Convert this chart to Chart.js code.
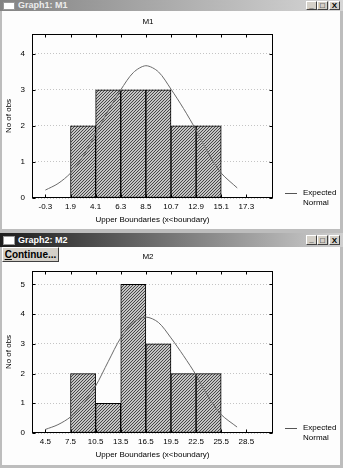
<!DOCTYPE html>
<html><head><meta charset="utf-8">
<script src="https://cdn.jsdelivr.net/npm/chart.js@4/dist/chart.umd.min.js"></script>
<style>
html,body{margin:0;padding:0}
body{width:343px;height:468px;position:relative;background:#bdbdbd;overflow:hidden;font-family:"Liberation Sans",Arial,sans-serif}
.wbody{position:absolute;left:2px;width:338px;background:#fdfdfd}
.tb{position:absolute;left:0;width:343px;color:#fff;font:bold 9px "Liberation Sans",Arial,sans-serif;white-space:nowrap}
.tb .ic{position:absolute;left:3px;width:12px;background:#fff;border:1px solid #999;box-sizing:border-box}
.tb .tx{position:absolute;left:18px}
.btn{position:absolute;width:11px;background:#d4d0c8;border:1px solid;border-color:#fff #404040 #404040 #fff;box-sizing:border-box;color:#000;font:bold 8px "Liberation Sans",Arial,sans-serif;text-align:center}
#cont{position:absolute;left:2px;top:247px;width:57px;height:15px;background:#d4d0c8;border:1px solid;border-color:#fff #404040 #404040 #fff;box-sizing:border-box;font:bold 10px "Liberation Sans",Arial,sans-serif;line-height:13px;text-align:center;color:#000}
canvas{position:absolute;left:0}
</style></head>
<body>
<div class="wbody" style="top:11px;height:218px"></div>
<div class="tb" style="top:0;height:11px;background:linear-gradient(to right,#838383,#d6d6d6)">
  <div class="ic" style="top:2px;height:8px"></div>
  <div class="tx" style="top:0;line-height:11px;color:#ececec">Graph1: M1</div>
  <div class="btn" style="left:306px;top:1px;height:9px;line-height:7px">_</div>
  <div class="btn" style="left:317px;top:1px;height:9px;line-height:7px">□</div>
  <div class="btn" style="left:329px;top:1px;height:9px;line-height:8px">X</div>
</div>
<div class="tb" style="top:233px;height:14px;background:linear-gradient(to right,#1c1c1c,#d0d0d0)">
  <div class="ic" style="top:3px;height:9px"></div>
  <div class="tx" style="top:0;line-height:14px">Graph2: M2</div>
  <div class="btn" style="left:306px;top:2px;height:10px;line-height:8px">_</div>
  <div class="btn" style="left:317px;top:2px;height:10px;line-height:9px">□</div>
  <div class="btn" style="left:329px;top:2px;height:10px;line-height:9px">X</div>
</div>
<div class="wbody" style="top:247px;height:218px"></div>
<canvas id="c1" width="343" height="218" style="top:12px"></canvas>
<canvas id="c2" width="343" height="218" style="top:247px"></canvas>
<div id="cont"><u>C</u>ontinue...</div>
<script>
// ---- data ----
const xTitle = 'Upper Boundaries (x<boundary)';
const yTitle = 'No of obs';
const legendLines = ['Expected', 'Normal'];

const m1Title = 'M1';
const m1Edges = [1.9, 4.1, 6.3, 8.5, 10.7, 12.9, 15.1];
const m1Counts = [2, 3, 3, 3, 2, 2];
const m1XTicks = [-0.3, 1.9, 4.1, 6.3, 8.5, 10.7, 12.9, 15.1, 17.3];
const m1XLabels = ['-0.3', '1.9', '4.1', '6.3', '8.5', '10.7', '12.9', '15.1', '17.3'];
const m1YTicks = [0, 1, 2, 3, 4];
const m1YLabels = ['0', '1', '2', '3', '4'];
const m1CurveX = [-0.3, 0.8, 1.9, 3.0, 4.1, 5.2, 6.3, 7.4, 8.5, 9.6, 10.7, 11.8, 12.9, 14.0, 15.1, 16.5];
const m1CurveY = [0.22, 0.4, 0.69, 1.15, 1.78, 2.42, 3.0, 3.48, 3.67, 3.5, 3.02, 2.48, 1.88, 1.22, 0.69, 0.28];
const m1XRange = [-0.3, 18.46];
const m1YRange = [0, 4.55];

const m2Title = 'M2';
const m2Edges = [7.5, 10.5, 13.5, 16.5, 19.5, 22.5, 25.5];
const m2Counts = [2, 1, 5, 3, 2, 2];
const m2XTicks = [4.5, 7.5, 10.5, 13.5, 16.5, 19.5, 22.5, 25.5, 28.5];
const m2XLabels = ['4.5', '7.5', '10.5', '13.5', '16.5', '19.5', '22.5', '25.5', '28.5'];
const m2YTicks = [0, 1, 2, 3, 4, 5];
const m2YLabels = ['0', '1', '2', '3', '4', '5'];
const m2CurveX = [4.5, 6, 7.5, 9, 10.5, 12, 13.5, 15, 16.5, 18, 19.5, 21, 22.5, 24, 25.5, 27.4];
const m2CurveY = [0.12, 0.28, 0.54, 0.98, 1.58, 2.4, 3.2, 3.72, 3.9, 3.72, 3.2, 2.6, 1.95, 1.2, 0.62, 0.2];
const m2XRange = [4.5, 30.09];
const m2YRange = [0, 5.45];

// ---- drawing ----
const FONT = '"Liberation Sans", Arial, sans-serif';
function hatch() {
  const c = document.createElement('canvas');
  c.width = 3; c.height = 3;
  const g = c.getContext('2d');
  g.fillStyle = '#c4c4c4'; g.fillRect(0, 0, 3, 3);
  g.fillStyle = '#474747';
  g.fillRect(0, 2, 1, 1); g.fillRect(1, 1, 1, 1); g.fillRect(2, 0, 1, 1);
  return g.createPattern(c, 'repeat');
}

const framePlugin = {
  id: 'frame',
  afterDraw(chart, args, o) {
    const {ctx, chartArea: a, scales: {x, y}} = chart;
    ctx.save();
    ctx.strokeStyle = '#000'; ctx.lineWidth = 1;
    const L = Math.round(a.left) + 0.5, T = Math.round(a.top) + 0.5, R = Math.round(a.right) - 0.5, B = Math.round(a.bottom) - 0.5;
    ctx.strokeRect(L, T, R - L, B - T);
    ctx.beginPath();
    x.ticks.forEach(t => {
      const p = Math.round(x.getPixelForValue(t.value)) + 0.5;
      ctx.moveTo(p, T); ctx.lineTo(p, T + 3);
      ctx.moveTo(p, B); ctx.lineTo(p, B - 3);
    });
    y.ticks.forEach(t => {
      const p = Math.round(y.getPixelForValue(t.value)) + 0.5;
      ctx.moveTo(L, p); ctx.lineTo(L + 3, p);
      ctx.moveTo(R, p); ctx.lineTo(R - 3, p);
    });
    ctx.stroke();
    ctx.fillStyle = '#000';
    ctx.font = '8px ' + FONT;
    ctx.textAlign = 'center'; ctx.textBaseline = 'middle';
    ctx.fillText(o.title, o.titleX, o.titleY);
    // legend
    ctx.strokeStyle = '#555';
    ctx.beginPath();
    ctx.moveTo(o.legX, o.legY + 0.5); ctx.lineTo(o.legX + 12, o.legY + 0.5);
    ctx.stroke();
    ctx.textAlign = 'left';
    legendLines.forEach((s, i) => ctx.fillText(s, o.legX + 18, o.legY + i * 10));
    ctx.restore();
  }
};

function makeChart(id, edges, counts, xt, xl, yt, yl, cx, cy, xr, yr, title, padTop) {
  const bars = counts.map((v, i) => ({x: (edges[i] + edges[i + 1]) / 2, y: v}));
  const curve = cx.map((v, i) => ({x: v, y: cy[i]}));
  return new Chart(document.getElementById(id), {
    type: 'bar',
    data: {
      datasets: [
        {type: 'line', data: curve, borderColor: '#6a6a6a', borderWidth: 1, pointRadius: 0, tension: 0.3, order: 0},
        {type: 'bar', data: bars, backgroundColor: hatch(), borderColor: '#000', borderWidth: 1, borderSkipped: false,
         barPercentage: 1, categoryPercentage: 1, order: 1}
      ]
    },
    options: {
      responsive: false, animation: false, devicePixelRatio: 1, events: [],
      layout: {padding: {top: padTop, right: 70, left: 0, bottom: 0}},
      plugins: {
        legend: {display: false}, tooltip: {enabled: false}, title: {display: false},
        frame: {title: title, titleX: 148, titleY: 10, legX: 285, legY: 181}
      },
      scales: {
        x: {
          type: 'linear', min: xr[0], max: xr[1],
          afterBuildTicks: s => { s.ticks = xt.map(v => ({value: v})); },
          afterFit: s => { s.height = 32; },
          ticks: {callback: (v) => xl[xt.indexOf(v)], color: '#000', font: {size: 8, family: FONT}, padding: 4, maxRotation: 0, autoSkip: false},
          grid: {display: false, drawTicks: false},
          border: {display: false},
          title: {display: true, text: xTitle, color: '#000', font: {size: 8, family: FONT}, padding: {top: 0, bottom: 5}}
        },
        y: {
          type: 'linear', min: yr[0], max: yr[1],
          afterBuildTicks: s => { s.ticks = yt.map(v => ({value: v})); },
          afterFit: s => { s.width = 32; },
          ticks: {callback: (v) => yl[yt.indexOf(v)], color: '#000', font: {size: 8, family: FONT}, padding: 7},
          grid: {color: '#c4c4c4', drawTicks: false},
          border: {display: false, dash: [1, 2]},
          title: {display: true, text: yTitle, color: '#000', font: {size: 8, family: FONT}, padding: {top: 4, bottom: 0}}
        }
      }
    },
    plugins: [framePlugin]
  });
}

makeChart('c1', m1Edges, m1Counts, m1XTicks, m1XLabels, m1YTicks, m1YLabels, m1CurveX, m1CurveY, m1XRange, m1YRange, m1Title, 22);
makeChart('c2', m2Edges, m2Counts, m2XTicks, m2XLabels, m2YTicks, m2YLabels, m2CurveX, m2CurveY, m2XRange, m2YRange, m2Title, 24);
</script>
</body></html>
